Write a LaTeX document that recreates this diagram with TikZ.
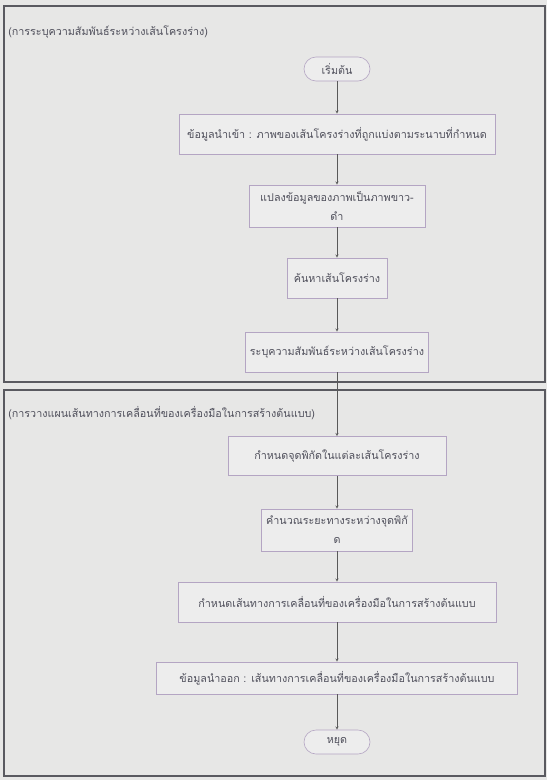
\documentclass[tikz,border=0pt]{standalone}
\usepackage{fontspec}
\newfontfamily\thaifont[Script=Thai]{Loma}
\definecolor{paper}{RGB}{231,231,230}
\definecolor{boxfill}{RGB}{237,237,237}
\definecolor{boxline}{RGB}{180,165,195}
\definecolor{frameline}{RGB}{90,90,96}
\definecolor{ink}{RGB}{80,80,92}

\begin{document}
\begin{tikzpicture}[x=1bp,y=-1bp,>=stealth,line width=0.6pt,
    font=\thaifont\fontsize{10.8}{19}\selectfont,
    stepbox/.style={draw=boxline,fill=boxfill,text=ink,minimum height=40bp,inner sep=2bp,align=center},
    term/.style={stepbox,rounded corners=12bp,minimum width=66bp,minimum height=24bp},
    frame/.style={draw=frameline,line width=1.2pt},
    flow/.style={->,draw=gray!70!black,line width=0.5pt}]
  \fill[paper] (0,0) rectangle (547,780);
  \useasboundingbox (0,0) rectangle (547,780);

  % two frames with their captions
  \draw[frame] (4,6) rectangle (545,382);
  \draw[frame] (4,390) rectangle (545,776);
  \node[anchor=west,text=ink,inner sep=0pt] (cap1) at (8,32) {(การระบุความสัมพันธ์ระหว่างเส้นโครงร่าง)};
  \node[anchor=west,text=ink,inner sep=0pt] (cap2) at (8,413) {(การวางแผนเส้นทางการเคลื่อนที่ของเครื่องมือในการสร้างต้นแบบ)};

  % steps
  \node[term] (start) at (337,69) {เริ่มต้น};
  \node[stepbox,minimum width=316bp] (input) at (337,134) {ข้อมูลนำเข้า : ภาพของเส้นโครงร่างที่ถูกแบ่งตามระนาบที่กำหนด};
  \node[stepbox,minimum width=176bp,minimum height=42bp] (binary) at (337,206) {แปลงข้อมูลของภาพเป็นภาพขาว-\\ดำ};
  \node[stepbox,minimum width=100bp] (contour) at (337,278) {ค้นหาเส้นโครงร่าง};
  \node[stepbox,minimum width=183bp] (relate) at (337,352) {ระบุความสัมพันธ์ระหว่างเส้นโครงร่าง};
  \node[stepbox,minimum width=218bp,minimum height=39bp] (points) at (337,456) {กำหนดจุดพิกัดในแต่ละเส้นโครงร่าง};
  \node[stepbox,minimum width=151bp,minimum height=42bp] (dist) at (337,530) {คำนวณระยะทางระหว่างจุดพิกั\\ด};
  \node[stepbox,minimum width=318bp] (path) at (337,602) {กำหนดเส้นทางการเคลื่อนที่ของเครื่องมือในการสร้างต้นแบบ};
  \node[stepbox,minimum width=361bp,minimum height=32bp] (output) at (337,678) {ข้อมูลนำออก : เส้นทางการเคลื่อนที่ของเครื่องมือในการสร้างต้นแบบ};
  \node[term] (stop) at (337,742) {หยุด};

  % connectors
  \foreach \a/\b in {start/input,input/binary,binary/contour,contour/relate,relate/points,
      points/dist,dist/path,path/output,output/stop}
    \draw[flow] (\a) -- (\b);
\end{tikzpicture}
\end{document}
